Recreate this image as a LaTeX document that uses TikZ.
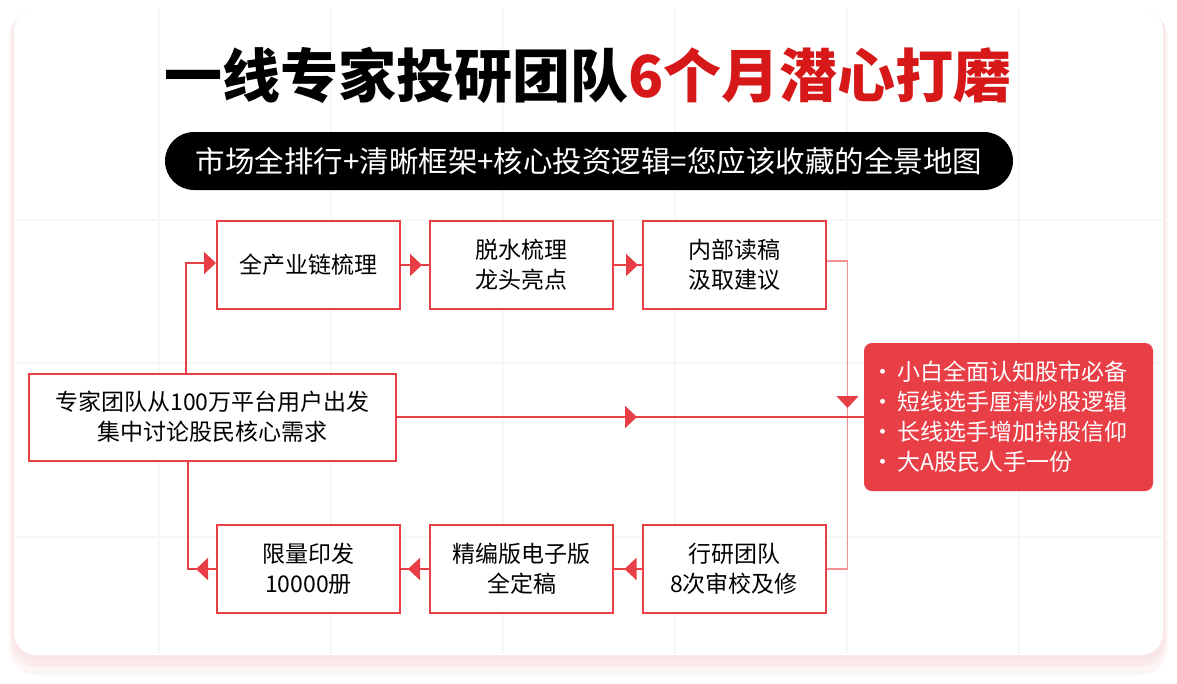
\documentclass[tikz,border=0pt]{standalone}
\usepackage{fontspec}
\setmainfont{Noto Sans CJK SC}
\usepackage{xcolor}
\usetikzlibrary{arrows.meta,decorations.markings}
\definecolor{boxred}{RGB}{232,62,70}
\definecolor{linkpink}{RGB}{242,145,150}
\definecolor{titlered}{RGB}{214,24,24}
\definecolor{gridgray}{RGB}{246,246,246}
\definecolor{shadowpink}{RGB}{250,230,230}

\begin{document}
\begin{tikzpicture}[x=1pt,y=-1pt,
  box/.style={draw=boxred,line width=2pt,fill=white,minimum width=183pt,minimum height=88pt,
    inner sep=0pt,align=center,font=\fontsize{23}{30}\selectfont},
  link/.style={draw=boxred,line width=2pt},
  feedback/.style={draw=linkpink,line width=1.4pt},
  tri/.tip={Triangle[length=12pt,width=22pt]},
  tipat/.style={postaction={decorate},decoration={markings,
    mark=at position #1 with {\arrow[boxred]{tri}}}}]
  \useasboundingbox (0,0) rectangle (1177,683);
  % card with soft shadow
  \fill[shadowpink,opacity=.35,rounded corners=28pt] (9,10) rectangle (1168,675);
  \fill[shadowpink,opacity=.6,rounded corners=25pt] (11,9) rectangle (1166,667);
  \fill[shadowpink,rounded corners=23pt] (13,8) rectangle (1164,661);
  \fill[white,rounded corners=22pt] (14,8) rectangle (1163,655);
  \foreach \gx in {159,331,503,675,847,1019}
    \draw[gridgray,line width=2pt] (\gx,9) -- (\gx,654);
  \foreach \gy in {220,363,537}
    \draw[gridgray,line width=2pt] (15,\gy) -- (1162,\gy);

  % heading
  \node[font=\fontsize{58}{60}\bfseries\selectfont] (title) at (588,75)
    {一线专家投研团队\textcolor{titlered}{6个月潜心打磨}};
  \node[fill=black,rounded corners=29pt,minimum width=848pt,minimum height=58pt,inner sep=0pt,
    text=white,font=\fontsize{29.5}{30}\selectfont] (subtitle) at (589,161)
    {市场全排行+清晰框架+核心投资逻辑=您应该收藏的全景地图};

  % flow boxes
  \node[box,minimum width=367pt,minimum height=87pt] (src) at (212.5,417)
    {专家团队从100万平台用户出发\\集中讨论股民核心需求};
  \node[box] (chain) at (308.5,265) {全产业链梳理};
  \node[box] (dehyd) at (521.5,265) {脱水梳理\\龙头亮点};
  \node[box] (readin) at (734,265) {内部读稿\\汲取建议};
  \node[box] (review) at (734,569) {行研团队\\8次审校及修};
  \node[box] (ebook) at (521.5,569) {精编版电子版\\全定稿};
  \node[box] (print) at (308.5,569) {限量印发\\10000册};
  \node[fill=boxred,rounded corners=8pt,text width=275pt,inner xsep=7pt,inner ysep=0pt,
    minimum height=148pt,text=white,align=left,font=\fontsize{23}{30}\selectfont] (target) at (1008.5,417)
    {•\kern4pt 小白全面认知股市必备\\•\kern4pt 短线选手厘清炒股逻辑\\
     •\kern4pt 长线选手增加持股信仰\\•\kern4pt 大A股民人手一份};

  % connectors
  \draw[link,-{tri}] ([xshift=-26.5pt]src.north) |- ([yshift=2pt]chain.west);
  \draw[link,tipat=21pt] (chain) -- (dehyd);
  \draw[link,tipat=24pt] (dehyd) -- (readin);
  \draw[feedback,tipat=168pt] ([yshift=4pt]readin.east) -- ++(21,0) |- (review.east);
  \draw[link,tipat=17pt] (review) -- (ebook);
  \draw[link,tipat=21pt] (ebook) -- (print);
  \draw[link,tipat=20pt] (print.west) -| ([xshift=-24.5pt]src.south);
  \draw[link,tipat=240pt] (src) -- (target);
\end{tikzpicture}
\end{document}
